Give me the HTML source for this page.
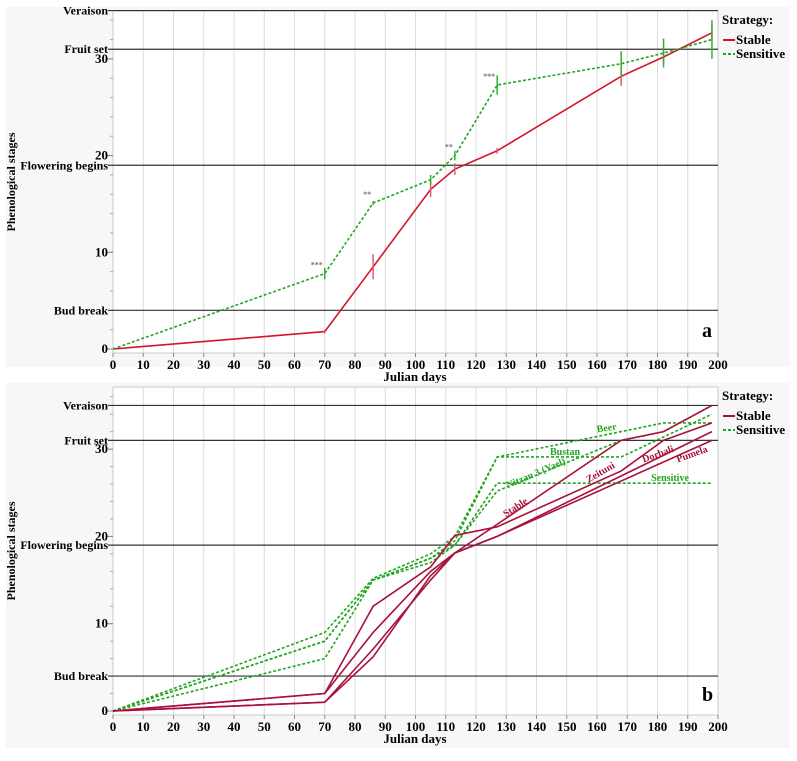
<!DOCTYPE html>
<html><head><meta charset="utf-8"><style>
body{margin:0;background:#fff;width:797px;height:756px;overflow:hidden;font-family:"Liberation Serif",serif}
svg text{font-family:"Liberation Serif",serif;font-weight:bold}
</style></head><body>
<svg id="c" width="797" height="756"></svg>
<script>
// ---- data ----
const xTicks=[0,10,20,30,40,50,60,70,80,90,100,110,120,130,140,150,160,170,180,190,200];
const yTicks=[0,10,20,30];
const stageNames=["Bud break","Flowering begins","Fruit set","Veraison"];
const stageValues=[4,19,31,35];
// panel a
const aStableX=[0,70,86,105,113,127,168,182,198];
const aStableY=[0,1.8,8.5,16.5,18.6,20.5,28.2,30.2,32.7];
const aStableErr=[0,0.2,1.3,0.8,0.6,0.3,1.0,0.7,0.8];
const aSensX=[0,70,86,105,113,127,168,182,198];
const aSensY=[0,7.8,15.1,17.5,20,27.3,29.5,30.6,32];
const aSensErr=[0,0.6,0.2,0.5,0.5,1.0,1.3,1.5,2.0];
const sigX=[70,86,113,127];
const sigY=[7.8,15.1,20,27.3];
const sigLabels=["***","**","**","***"];
// panel b
const bStableNames=["Stable","B","Zeituni","Pumela"];
const bStableX=[
 [0,70,86,105,113,168,182,198],
 [0,70,86,105,113,127,168,182,198],
 [0,70,86,105,113,127,198],
 [0,70,86,105,113,127,198]];
const bStableY=[
 [0,1,6.2,15.5,18.1,31,32,35],
 [0,2,12,16.5,20.1,21.1,27.5,31,33],
 [0,2,9,16,18.1,20,32],
 [0,1,7.1,15,18.1,20,31]];
const bSensNames=["Beer","Bustan","Nitzan","Sensitive"];
const bSensX=[
 [0,70,86,105,113,127,182,198],
 [0,70,86,105,113,127,168,198],
 [0,70,86,105,113,127,168,182,198],
 [0,70,86,105,113,127,198]];
const bSensY=[
 [0,9,15.2,18,20,29.1,33,33],
 [0,8,15,17.5,19.5,29.1,29.1,34],
 [0,8,15,17,19,25.2,31,32,35],
 [0,6,15,17.5,19,26.1,26.1]];

const NS="http://www.w3.org/2000/svg";
const svg=document.getElementById('c');
function el(t,a,p){const e=document.createElementNS(NS,t);for(const k in a)e.setAttribute(k,a[k]);(p||svg).appendChild(e);return e;}
function txt(s,a,p){const e=el('text',a,p);e.textContent=s;return e;}

function panel(o){
 const g=el('g',{});
 
 
 const X=d=>113+d*3.025;
 const Y=v=>o.y0-v*o.k;
 el('rect',{x:6,y:o.bgTop,width:784,height:o.bgH,fill:'#f7f7f7'},g);
 el('rect',{x:113,y:o.top,width:605,height:o.bot-o.top,fill:'#fff',stroke:'#c8c8c8'},g);
 xTicks.forEach(t=>{
  if(t>0&&t<200){const l=el('line',{x1:X(t),x2:X(t),y1:o.top,y2:o.bot,stroke:'#dcdcdc'},g);}
  el('line',{x1:X(t),x2:X(t),y1:o.bot,y2:o.bot+4,stroke:'#888'},g);
  const tl=txt(String(t),{x:X(t),y:o.bot+16,'font-size':13,'text-anchor':'middle'},g);
  
 });
 for(let v=0;v<=o.maxV;v+=2){el('line',{x1:110,x2:113,y1:Y(v),y2:Y(v),stroke:'#aaa'},g);}
 yTicks.forEach(t=>{
  el('line',{x1:107,x2:113,y1:Y(t),y2:Y(t),stroke:'#888'},g);
  const tl=txt(String(t),{x:108,y:Y(t)+4,'font-size':13,'text-anchor':'end'},g);
  
 });
 stageValues.forEach((v,i)=>{
  const l=el('line',{x1:108,x2:718,y1:Y(v),y2:Y(v),stroke:'#333','stroke-width':1.2},g);
  
  const tl=txt(stageNames[i],{x:108,y:Y(v)+4,'font-size':12,'text-anchor':'end'},g);
  
 });
 const xt=txt('Julian days',{x:415,y:o.bot+28,'font-size':13,'text-anchor':'middle'},g);
 
 const yt=txt('Phenological stages',{transform:`translate(15,${(o.top+o.bot)/2}) rotate(-90)`,'font-size':12,'text-anchor':'middle'},g);
 
 const lg=el('g',{},g);
 txt('Strategy:',{x:722,y:o.top+13,'font-size':13},lg);
 el('line',{x1:723,x2:735,y1:o.top+29,y2:o.top+29,stroke:o.red,'stroke-width':2},lg);
 txt('Stable',{x:736,y:o.top+33,'font-size':13},lg);
 el('line',{x1:723,x2:735,y1:o.top+43,y2:o.top+43,stroke:'#22a622','stroke-width':2,'stroke-dasharray':'3,2'},lg);
 txt('Sensitive',{x:736,y:o.top+47,'font-size':13},lg);
 return {g,X,Y};
}
function poly(g,xs,ys,X,Y,col,dash,name){
 const p=el('polyline',{points:xs.map((d,i)=>X(d)+','+Y(ys[i])).join(' '),fill:'none',stroke:col,'stroke-width':1.6},g);
 if(dash)p.setAttribute('stroke-dasharray','3,2');
 
 
}
const A=panel({name:'panel-a',bgTop:7,bgH:360,top:11,bot:353,y0:349,k:9.67,maxV:34,red:'#d4142c'});
poly(A.g,aStableX,aStableY,A.X,A.Y,'#d4142c',false,'series-stable');
poly(A.g,aSensX,aSensY,A.X,A.Y,'#22a622',true,'series-sensitive');
aStableX.forEach((d,i)=>{if(aStableErr[i]>0){const l=el('line',{x1:A.X(d),x2:A.X(d),y1:A.Y(aStableY[i]-aStableErr[i]),y2:A.Y(aStableY[i]+aStableErr[i]),stroke:'#e06070','stroke-width':1.5},A.g);}});
aSensX.forEach((d,i)=>{if(aSensErr[i]>0){const l=el('line',{x1:A.X(d),x2:A.X(d),y1:A.Y(aSensY[i]-aSensErr[i]),y2:A.Y(aSensY[i]+aSensErr[i]),stroke:'#33b033','stroke-width':1.5},A.g);}});
sigX.forEach((d,i)=>{const t=txt(sigLabels[i],{x:A.X(d)-2,y:A.Y(sigY[i])-6,'font-size':8,'text-anchor':'end',fill:'#777','font-weight':'normal'},A.g);});
const la=txt('a',{x:702,y:337,'font-size':20},A.g);
const B=panel({name:'panel-b',bgTop:383,bgH:365,top:387,bot:715,y0:711,k:8.73,maxV:36,red:'#a8123c'});
bSensX.forEach((xs,i)=>poly(B.g,xs,bSensY[i],B.X,B.Y,'#22a622',true,'cultivar-'+bSensNames[i].toLowerCase()));
bStableX.forEach((xs,i)=>poly(B.g,xs,bStableY[i],B.X,B.Y,'#a8123c',false,'cultivar-'+bStableNames[i].toLowerCase()));
const lbls=[["Beer",607,431,-8,'#22a622'],["Bustan",565,455,0,'#22a622'],["Nitzan 3 (Yael)",537,476,-23,'#22a622'],["Sensitive",670,481,0,'#22a622'],["Stable",517,510,-33,'#a8123c'],["Zeituni",602,475,-30,'#a8123c'],["Dorbali",659,457,-20,'#a8123c'],["Pumela",693,457,-20,'#a8123c']];
lbls.forEach(l=>{const t=txt(l[0],{x:l[1],y:l[2],'font-size':10,'text-anchor':'middle',fill:l[4],transform:`rotate(${l[3]} ${l[1]} ${l[2]})`},B.g);});
const lb=txt('b',{x:702,y:701,'font-size':20},B.g);
</script>
</body></html>
